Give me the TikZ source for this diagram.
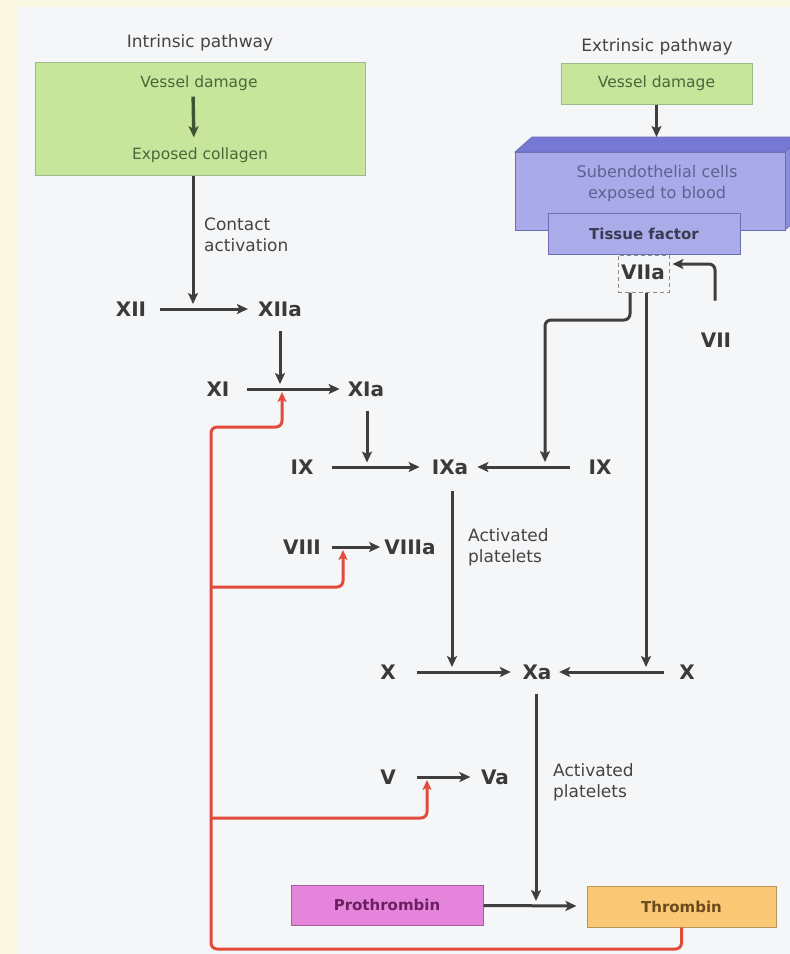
\documentclass[tikz,border=0pt]{standalone}
\usepackage{fontspec}
\setmainfont{DejaVu Sans}
\usetikzlibrary{arrows.meta}
\definecolor{bgy}{HTML}{FBF9E2}
\definecolor{panel}{HTML}{F5F6F8}
\definecolor{gfill}{HTML}{C8E59C}
\definecolor{gdraw}{HTML}{9DB88A}
\definecolor{gtext}{HTML}{46693A}
\definecolor{garrc}{HTML}{3E5533}
\definecolor{arrc}{HTML}{3E3E3E}
\definecolor{labc}{HTML}{3A3A3A}
\definecolor{smallc}{HTML}{444444}
\definecolor{redc}{HTML}{E24B3C}
\definecolor{bfront}{HTML}{A8AAEA}
\definecolor{btop}{HTML}{7678D5}
\definecolor{bside}{HTML}{8A8DE0}
\definecolor{bdraw}{HTML}{6C6FB5}
\definecolor{btext}{HTML}{5E628E}
\definecolor{tfill}{HTML}{A9ACE8}
\definecolor{ttxt}{HTML}{3A3A52}
\definecolor{pfill}{HTML}{E484DA}
\definecolor{pdraw}{HTML}{A65E9F}
\definecolor{ptext}{HTML}{6B1F60}
\definecolor{thfill}{HTML}{FAC774}
\definecolor{thdraw}{HTML}{B8935E}
\definecolor{thtext}{HTML}{6B4A1C}
\definecolor{dashc}{HTML}{8A8A8A}
\tikzset{
  fac/.style={font=\fontsize{20}{22}\selectfont\bfseries, text=labc, inner sep=0pt},
  small/.style={font=\fontsize{17}{21}\selectfont, text=smallc, align=left, inner sep=0pt},
  gtxt/.style={font=\fontsize{15.5}{18}\selectfont, text=gtext, inner sep=0pt},
  arr/.style={draw=arrc, line width=3pt, -{Stealth[length=11pt,width=10pt,inset=2.5pt]}},
  garr/.style={draw=garrc, line width=3.4pt, -{Stealth[length=11pt,width=10pt,inset=2.5pt]}},
  redarr/.style={draw=redc, line width=3pt, rounded corners=6pt, -{Stealth[length=10pt,width=9pt,inset=2.5pt]}},
  boxn/.style={inner sep=0pt, line width=1pt},
}
\begin{document}
\begin{tikzpicture}[x=1pt,y=-1pt]
\useasboundingbox (0,0) rectangle (790,954);
\clip (0,0) rectangle (790,954);
\fill[bgy] (0,0) rectangle (790,954);
\fill[panel] (17,7) rectangle (790,954);

% headings
\node[small] (tin) at (200,43) {Intrinsic pathway};
\node[small] (tex) at (657,47) {Extrinsic pathway};

% intrinsic green box
\node[boxn, draw=gdraw, fill=gfill, minimum width=330pt, minimum height=113pt] (gbox) at (200,118.5) {};
\node[gtxt] (vd) at (199,83) {Vessel damage};
\node[gtxt] (ec) at (200,155) {Exposed collagen};
\draw[garr, shorten <=6pt, shorten >=10pt] ([xshift=-6pt]vd.south) -- ([xshift=-6pt]ec.north);

% extrinsic green box
\node[boxn, draw=gdraw, fill=gfill, minimum width=191pt, minimum height=41pt, gtxt] (ext) at (656.5,83.5) {Vessel damage};

% 3D blue box
\fill[btop, draw=bdraw, line width=0.8pt] (515,152) -- (532,137) -- (802,137) -- (785,152) -- cycle;
\fill[bside, draw=bdraw, line width=0.8pt] (785,152) -- (802,137) -- (802,215) -- (785,230) -- cycle;
\node[boxn, draw=bdraw, line width=0.8pt, fill=bfront, minimum width=270pt, minimum height=78pt] (sub) at (650,191) {};
\node[font=\fontsize{16}{21}\selectfont, text=btext, align=center, inner sep=0pt] (subt) at (657,183.5) {Subendothelial cells\\exposed to blood};
\coordinate (subtop) at (656.5,137);
\draw[arr] (ext.south) -- (subtop);

% VIIa dashed box and tissue factor
\node[boxn, draw=dashc, dash pattern=on 4pt off 3pt, fill=panel, minimum width=51pt, minimum height=37pt] (VIIabox) at (643.5,273.5) {};
\node[fac] (VIIa) at (643,272) {VIIa};
\node[boxn, draw=bdraw, fill=tfill, minimum width=192pt, minimum height=41pt, font=\fontsize{15}{18}\selectfont\bfseries, text=ttxt] (tf) at (644,233.5) {Tissue factor};

% factor labels
\node[fac] (XII) at (131,309) {XII};
\node[fac] (XIIa) at (280,309) {XIIa};
\node[fac] (XI) at (218,389) {XI};
\node[fac] (XIa) at (366,389) {XIa};
\node[fac] (IX) at (302,467) {IX};
\node[fac] (IXa) at (450,467) {IXa};
\node[fac] (IXr) at (600,467) {IX};
\node[fac] (VIII) at (302,547) {VIII};
\node[fac] (VIIIa) at (410,547) {VIIIa};
\node[fac] (X) at (388,672) {X};
\node[fac] (Xa) at (537,672) {Xa};
\node[fac] (Xr) at (687,672) {X};
\node[fac] (V) at (388,777) {V};
\node[fac] (Va) at (495,777) {Va};
\node[fac] (VII) at (716,340) {VII};

% small labels
\node[small, anchor=west] (ca) at (204,234.5) {Contact\\activation};
\node[small, anchor=west] (ap1) at (468,547.5) {Activated\\platelets};
\node[small, anchor=west] (ap2) at (553,782) {Activated\\platelets};

% boxes bottom
\node[boxn, draw=pdraw, fill=pfill, minimum width=192pt, minimum height=40pt, font=\fontsize{15}{18}\selectfont\bfseries, text=ptext] (pro) at (387,905) {Prothrombin};
\node[boxn, draw=thdraw, fill=thfill, minimum width=189pt, minimum height=41pt, font=\fontsize{15}{18}\selectfont\bfseries, text=thtext] (thr) at (681.5,906.5) {Thrombin};

% junctions
\coordinate (j12) at (193,309);
\coordinate (j11) at (280,389);
\coordinate (j9l) at (367,467);
\coordinate (j9r) at (545,467);
\coordinate (j10l) at (452,672);
\coordinate (j10r) at (646,672);
\coordinate (jpt) at (536,906);
\coordinate (r11) at (282,389);
\coordinate (r8) at (343,547);
\coordinate (r5) at (427,777);

% dark horizontal arrows
\draw[arr, shorten <=14pt, shorten >=10pt] (XII) -- (XIIa);
\draw[arr, shorten <=17.5pt, shorten >=8pt] (XI) -- (XIa);
\draw[arr, shorten <=18.5pt, shorten >=12pt] (IX) -- (IXa);
\draw[arr, shorten <=18.5pt, shorten >=9pt] (IXr) -- (IXa);
\draw[arr, shorten <=11pt, shorten >=4pt] (VIII) -- (VIIIa);
\draw[arr, shorten <=21pt, shorten >=11.5pt] (X) -- (Xa);
\draw[arr, shorten <=15pt, shorten >=7.5pt] (Xr) -- (Xa);
\draw[arr, shorten <=21pt, shorten >=10.5pt] (V) -- (Va);
\draw[arr, shorten >=10pt] (pro) -- (thr);

% dark vertical arrows
\draw[arr, shorten >=5pt] (gbox.south -| j12) -- (j12);
\draw[arr, shorten <=14pt, shorten >=5pt] (XIIa.south) -- (j11);
\draw[arr, shorten <=14pt, shorten >=4.5pt] ([xshift=1pt]XIa.south) -- (j9l);
\draw[arr, shorten <=16pt, shorten >=5pt] ([xshift=2pt]IXa.south) -- (j10l);
\draw[arr, shorten <=14pt, shorten >=5pt] ([xshift=-1pt]Xa.south) -- (jpt);
\draw[arr, rounded corners=6pt, shorten >=5pt] ([xshift=-13.5pt]VIIabox.south) |- (545,320) -- (j9r);
\draw[arr, shorten >=5pt] ([xshift=2.5pt]VIIabox.south) -- (j10r);
\draw[arr, rounded corners=6pt, shorten <=32pt, shorten >=3pt] ([xshift=-1pt]VII.north) |- ([yshift=9.5pt]VIIabox.east);

% red feedback
\draw[redarr, shorten >=3pt] (thr.south) |- (211,949) |- (282,427) -- (r11);
\draw[redarr, shorten >=3pt] (211,587) -| (r8);
\draw[redarr, shorten >=3pt] (211,818) -| (r5);
\end{tikzpicture}
\end{document}
